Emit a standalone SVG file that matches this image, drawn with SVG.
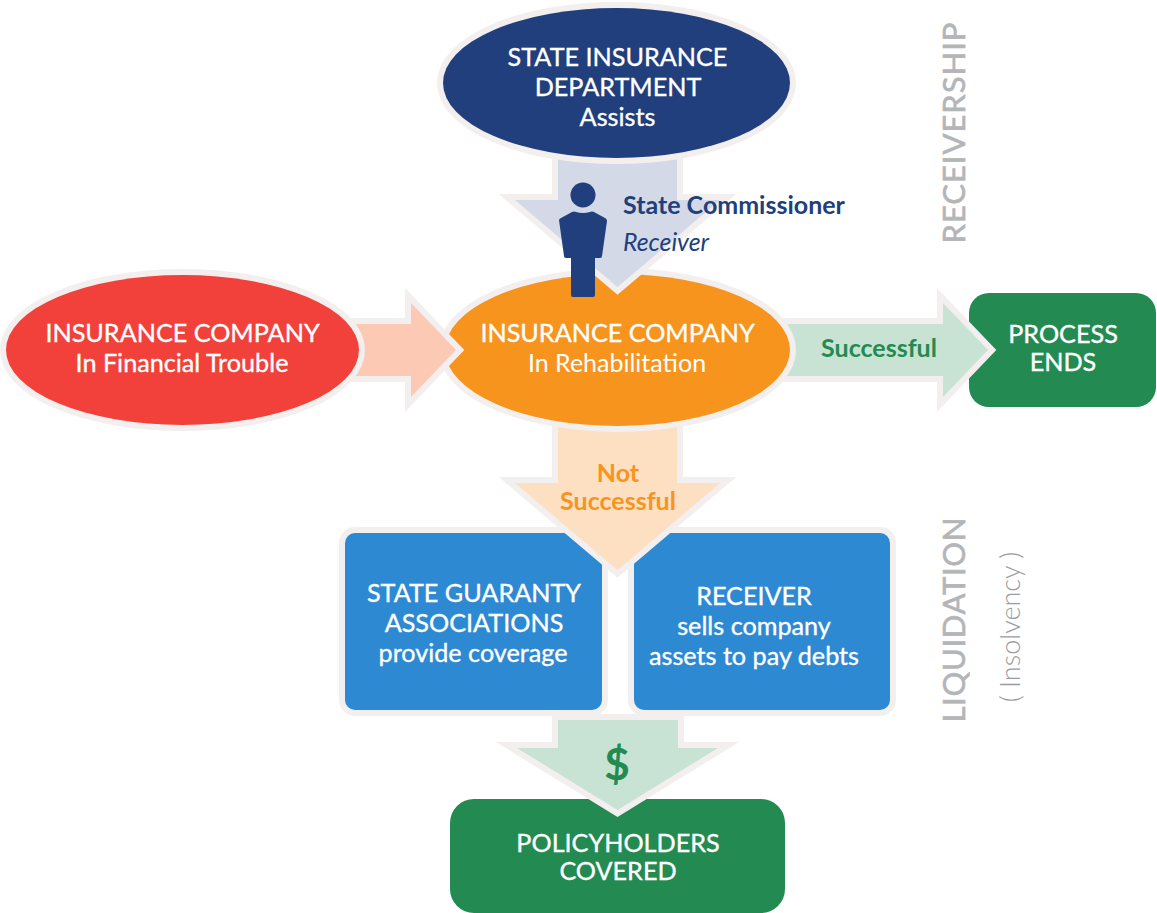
<svg xmlns="http://www.w3.org/2000/svg" width="1157" height="913" viewBox="0 0 1157 913">
<style>
text{font-family:Lato,"Liberation Sans",sans-serif;text-anchor:middle}
.b{stroke:#f3efee;stroke-width:12;paint-order:stroke}
.a{stroke:#f3efee;stroke-width:12;stroke-miterlimit:10;paint-order:stroke}
.t{font-size:25.2px;fill:#fff;stroke:#fff;stroke-width:.35px}
.s{font-size:25px;font-weight:700}
.v{font-size:31px;fill:#b3b5b8;stroke:#b3b5b8;stroke-width:.6px}
</style>
<rect width="1157" height="913" fill="#fff"/>
<g id="node-process"><rect x="969" y="293" width="187" height="114" rx="20" fill="#238b52"/><text class="t" x="1063" y="343">PROCESS</text><text class="t" x="1063" y="371">ENDS</text></g>
<g id="node-guaranty"><rect class="b" x="345" y="533" width="257" height="177" rx="10" fill="#2e89d3"/><text class="t" x="474" y="602">STATE GUARANTY</text><text class="t" x="474" y="632">ASSOCIATIONS</text><text class="t" x="473" y="662">provide coverage</text></g>
<g id="node-receiver"><rect class="b" x="634" y="533" width="256" height="177" rx="10" fill="#2e89d3"/><text class="t" x="754" y="605">RECEIVER</text><text class="t" x="754" y="635">sells company</text><text class="t" x="754" y="665">assets to pay debts</text></g>
<g id="node-policy"><rect x="450" y="799" width="335" height="114" rx="24" fill="#238b52"/><text class="t" x="618" y="852">POLICYHOLDERS</text><text class="t" x="618" y="880">COVERED</text></g>
<g id="connectors">
<polygon id="arrow-right" class="a" fill="#c8e3d4" points="780,324 943,324 943,303 988,350 943,397 943,376 780,376"/>
<polygon id="arrow-not" class="a" fill="#fddfc2" points="558,420 677,420 677,483 720,483 617.500,570 515,483 558,483"/>
<polygon id="arrow-money" class="a" fill="#c8e3d4" points="558,720 678,720 678,748 718,748 617.500,810 517,748 558,748"/>
</g>
<g id="node-orange"><ellipse class="b" cx="617.500" cy="350" rx="172.500" ry="76" fill="#f7941e"/></g>
<g id="connectors-over">
<polygon id="arrow-left" class="a" fill="#fcc9b5" points="340,324 411,324 411,303 456,350 411,397 411,376 340,376"/>
<polygon id="arrow-top" class="a" fill="#d3d9e6" points="558,150 677,150 677,200 720,200 617.500,287 515,200 558,200"/>
</g>
<g id="node-red"><ellipse class="b" cx="182.500" cy="350" rx="176.500" ry="75" fill="#f2413a"/><text class="t" x="182.500" y="342">INSURANCE COMPANY</text><text class="t" x="182" y="372">In Financial Trouble</text></g>
<g id="node-orange-text"><text class="t" x="617.500" y="342">INSURANCE COMPANY</text><text x="617" y="372" font-size="25" fill="#fff">In Rehabilitation</text></g>
<g id="node-state"><ellipse class="b" cx="616.500" cy="83" rx="173.500" ry="75" fill="#203f7c"/><text class="t" x="617.500" y="66">STATE INSURANCE</text><text class="t" x="618" y="96">DEPARTMENT</text><text class="t" x="617.500" y="126">Assists</text></g>
<g id="node-commissioner">
<circle cx="583" cy="195" r="12.500" fill="#203f7c"/>
<path fill="#203f7c" d="M559 220Q559 219 561 218L572 212Q574 211 576 212Q583 214 590 212Q592 211 594 212L605 218Q607 219 607 221L602 256Q602 258 600 258H595V295Q595 297 593 297H573Q571 297 571 295V258H566Q564 258 564 256Z"/>
<text x="623" y="214" font-size="25" font-weight="700" fill="#203f7c" style="text-anchor:start">State Commissioner</text>
<text x="623" y="251" font-size="24.800" font-style="italic" fill="#203f7c" style="text-anchor:start">Receiver</text>
</g>
<text class="s" x="879" y="357" fill="#238b52">Successful</text>
<text class="s" x="618" y="482" fill="#f7941e">Not</text><text class="s" x="618" y="510" fill="#f7941e">Successful</text>
<text x="617" y="780" font-size="44" font-weight="700" fill="#238b52">$</text>
<text class="v" transform="translate(965 133) rotate(-90)" textLength="221">RECEIVERSHIP</text>
<text class="v" transform="translate(965 620) rotate(-90)" textLength="205">LIQUIDATION</text>
<text transform="translate(1020 627) rotate(-90)" font-size="27" font-weight="300" fill="#9a9c9f">( Insolvency )</text>
</svg>
